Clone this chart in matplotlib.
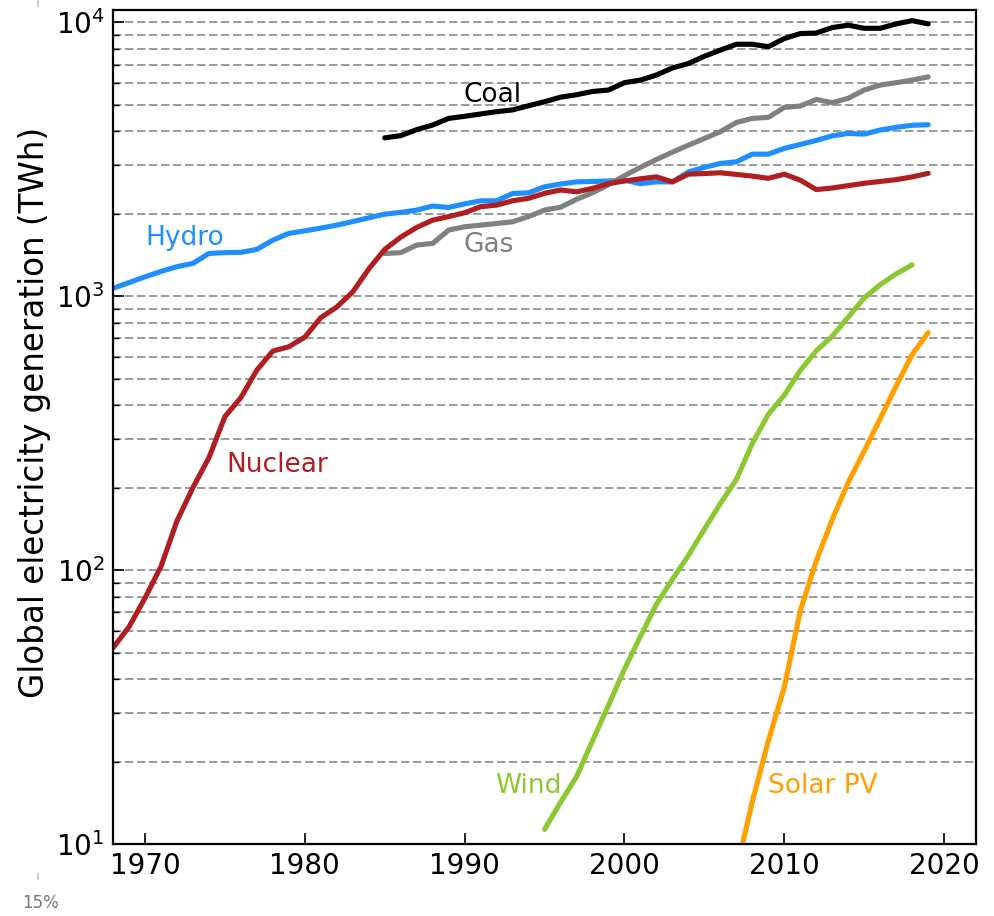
import numpy as np
import matplotlib
matplotlib.use('Agg')
from matplotlib import pyplot as plt
from matplotlib.ticker import LogLocator
from matplotlib.lines import Line2D

# global electricity generation, TWh
hydroYears = list(range(1968, 2020))
hydro = [1067, 1120, 1175, 1230, 1280, 1316, 1431, 1440, 1444, 1480,
         1600, 1693, 1730, 1770, 1815, 1870, 1930, 1990, 2020, 2060,
         2130, 2106, 2170, 2227, 2227, 2367, 2382, 2505, 2563, 2611,
         2620, 2630, 2648, 2572, 2611, 2611, 2838, 2950, 3048, 3090,
         3296, 3296, 3459, 3575, 3700, 3845, 3923, 3900, 4036, 4129,
         4200, 4220]

nuclearYears = list(range(1968, 2020))
nuclear = [52, 62, 79, 103, 151, 200, 257, 363, 426, 537,
           630, 653, 708, 834, 912, 1036, 1255, 1480, 1640, 1780,
           1893, 1950, 2014, 2119, 2148, 2227, 2274, 2372, 2438, 2402,
           2471, 2572, 2630, 2680, 2722, 2611, 2786, 2800, 2818, 2780,
           2740, 2690, 2786, 2648, 2447, 2480, 2530, 2580, 2620, 2660,
           2722, 2805]

coalYears = list(range(1985, 2020))
coal = [3780, 3850, 4050, 4210, 4450, 4530, 4620, 4710, 4780, 4950,
        5120, 5320, 5430, 5580, 5650, 6010, 6140, 6410, 6800, 7060,
        7500, 7900, 8300, 8300, 8130, 8710, 9080, 9120, 9550, 9740,
        9490, 9490, 9850, 10120, 9850]

gasYears = list(range(1985, 2020))
gas = [1430, 1440, 1535, 1557, 1741, 1790, 1815, 1840, 1867, 1950,
       2060, 2110, 2254, 2382, 2550, 2750, 2950, 3150, 3350, 3556,
       3760, 3980, 4300, 4450, 4490, 4880, 4940, 5220, 5080, 5270,
       5650, 5890, 6010, 6140, 6310]

windYears = list(range(1995, 2019))
wind = [11.3, 14.2, 17.6, 23.8, 32.1, 43.5, 57.3, 75, 92.5, 113,
        141, 175, 214, 290, 370, 435, 535, 631, 714, 838,
        985, 1100, 1206, 1300]

solarYears = list(range(2007, 2020))
solar = [8.0, 14.3, 23.8, 37.4, 71, 108, 153, 209, 272, 357, 470, 612, 735]

series = [
    ('Hydro', hydroYears, hydro, '#1e8fff', 1972.5, 1630),
    ('Gas', gasYears, gas, '#808080', 1991.5, 1535),
    ('Nuclear', nuclearYears, nuclear, '#b01e22', 1978.25, 241),
    ('Coal', coalYears, coal, 'black', 1991.75, 5420),
    ('Wind', windYears, wind, '#8cc832', 1994.0, 16.3),
    ('Solar PV', solarYears, solar, '#ffa000', 2012.4, 16.3),
]

fig = plt.figure(figsize=(9.94, 9.16), dpi=100)
ax = fig.add_axes([0.1137, 0.0786, 0.8683, 0.9105])

for name, yrs, vals, col, lx, ly in series:
    ax.plot(yrs, vals, color=col, lw=3.7, solid_capstyle='round')
    ax.text(lx, ly, name, color=col, fontsize=19, ha='center', va='center')

ax.set_yscale('log')
ax.set_xlim(1968, 2022)
ax.set_ylim(10, 1.107e4)
ax.yaxis.set_minor_locator(LogLocator(base=10, subs=np.arange(2, 10)))
ax.set_xticks([1970, 1980, 1990, 2000, 2010, 2020])

ax.grid(True, axis='y', which='both', color='#8a8a8a', lw=1.2,
        linestyle=(0, (5, 2.2)))
ax.set_axisbelow(True)

ax.tick_params(axis='both', which='major', direction='in', length=8, width=1.2,
               labelsize=20, top=False, right=False, pad=6)
ax.tick_params(axis='y', which='minor', direction='in', length=4, width=1,
               right=False)
for sp in ax.spines.values():
    sp.set_linewidth(1.6)

ax.set_ylabel('Global electricity generation (TWh)', fontsize=23.5)
ax.yaxis.set_label_coords(-0.0715, 0.518)

# little screenshot leftovers outside the plot
fig.text(0.022, 0.009, '15%', fontsize=12, color='#777777')
fig.add_artist(Line2D([0.038, 0.038], [0.993, 1.0], color='#cccccc', lw=1.5))
fig.add_artist(Line2D([0.038, 0.038], [0.040, 0.046], color='#cccccc', lw=1.5))

fig.savefig('out.png', dpi=100)
